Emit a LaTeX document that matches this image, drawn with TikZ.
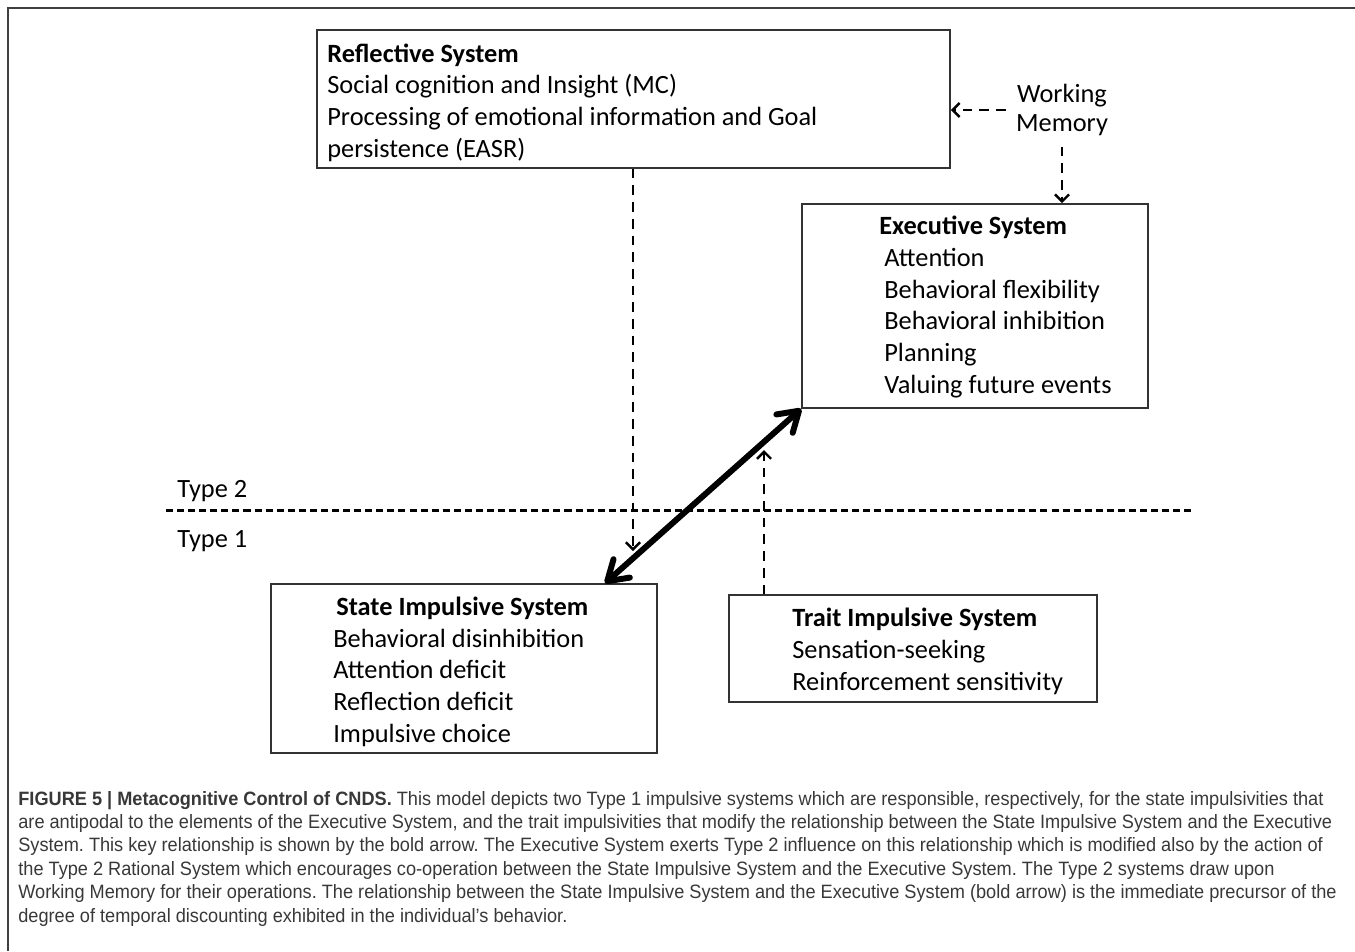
\documentclass[tikz,border=0pt]{standalone}
\usepackage{fontspec}
\setmainfont{Carlito}
\newfontfamily\capfont[FakeStretch=0.94]{Liberation Sans}
\usetikzlibrary{arrows.meta,fit}

\tikzset{
    sysbox/.style={draw=black!80, line width=0.9pt, inner sep=0pt},
    % base anchor of a multi-line node sits on its last line
    boxtext/.style={anchor=base west, align=left, inner sep=0pt, font=\fontsize{15}{18}\selectfont},
    dasharrow/.style={line width=1.4pt, dash pattern=on 5.5pt off 4pt, -{Straight Barb[length=4pt,width=8pt]}},
    typeline/.style={line width=1.7pt, dash pattern=on 4pt off 2.3pt},
    boldarrow/.style={line width=3.4pt, {Straight Barb[length=11pt,width=14pt,round]}-{Straight Barb[length=11pt,width=14pt,round]}}
}

\begin{document}
\begin{tikzpicture}[x=0.02cm, y=-0.02cm]
    \useasboundingbox (0,0) rectangle (1355,951);

    % Outer frame (only top and left edges fall inside the page)
    \draw[black!75, line width=0.8pt] (1355,8) -- (8,8) -- (8,951);

    % The four system boxes
    \node[sysbox, fit={(317,30) (950,168)}] (refl) {};
    \node[sysbox, fit={(802,204) (1148,408)}] (exec) {};
    \node[sysbox, fit={(271,584) (657,753)}] (state) {};
    \node[sysbox, fit={(729,595) (1097,702)}] (trait) {};

    % Box contents
    \node[boxtext] (reflT) at (327,157) {\bfseries Reflective System\\
        Social cognition and Insight (MC)\\
        Processing of emotional information and Goal\\
        persistence (EASR)};
    \node[boxtext] (execT) at (879,393) {\bfseries Executive System\\
        \hspace*{0.1cm}Attention\\
        \hspace*{0.1cm}Behavioral flexibility\\
        \hspace*{0.1cm}Behavioral inhibition\\
        \hspace*{0.1cm}Planning\\
        \hspace*{0.1cm}Valuing future events};
    \node[boxtext] (stateT) at (333,742) {\hspace*{0.06cm}\bfseries State Impulsive System\\
        Behavioral disinhibition\\
        Attention deficit\\
        Reflection deficit\\
        Impulsive choice};
    \node[boxtext] (traitT) at (792,690) {\bfseries Trait Impulsive System\\
        Sensation-seeking\\
        Reinforcement sensitivity};

    % Working memory
    \node[align=center, font=\fontsize{15}{17}\selectfont, inner sep=0.2cm] (wm) at (1062,110) {Working\\Memory};
    \draw[dasharrow] (wm.west) -- (wm.west -| refl.east);
    \draw[dasharrow] (wm.south) -- (wm.south |- exec.north);

    % Type 2 / Type 1 separation
    \coordinate (sepL) at (166,510);
    \coordinate (sepR) at (1192,510);
    \draw[typeline] (sepL) -- (sepR);
    \node[boxtext] (type2) at (177,497) {Type 2};
    \node[boxtext] (type1) at (177,547) {Type 1};

    % Influences between systems
    \coordinate (reflTip) at (633,551);
    \coordinate (traitTip) at (764,450);
    \draw[dasharrow] (reflTip |- refl.south) -- (reflTip);
    \draw[dasharrow] (traitTip |- trait.north) -- (traitTip);
    \coordinate (stateEnd) at (605,584);
    \draw[boldarrow] (stateEnd |- state.north) -- (exec.south west);

    % Caption
    \node[anchor=base west, align=left, inner sep=0pt, text=black!78,
          font=\capfont\fontsize{11}{13.3}\selectfont\frenchspacing] (caption) at (18,922)
        {\textbf{FIGURE 5 | Metacognitive Control of CNDS.} This model depicts two Type 1 impulsive systems which are responsible, respectively, for the state impulsivities that\\
        are antipodal to the elements of the Executive System, and the trait impulsivities that modify the relationship between the State Impulsive System and the Executive\\
        System. This key relationship is shown by the bold arrow. The Executive System exerts Type 2 influence on this relationship which is modified also by the action of\\
        the Type 2 Rational System which encourages co-operation between the State Impulsive System and the Executive System. The Type 2 systems draw upon\\
        Working Memory for their operations. The relationship between the State Impulsive System and the Executive System (bold arrow) is the immediate precursor of the\\
        degree of temporal discounting exhibited in the individual’s behavior.};
\end{tikzpicture}
\end{document}
